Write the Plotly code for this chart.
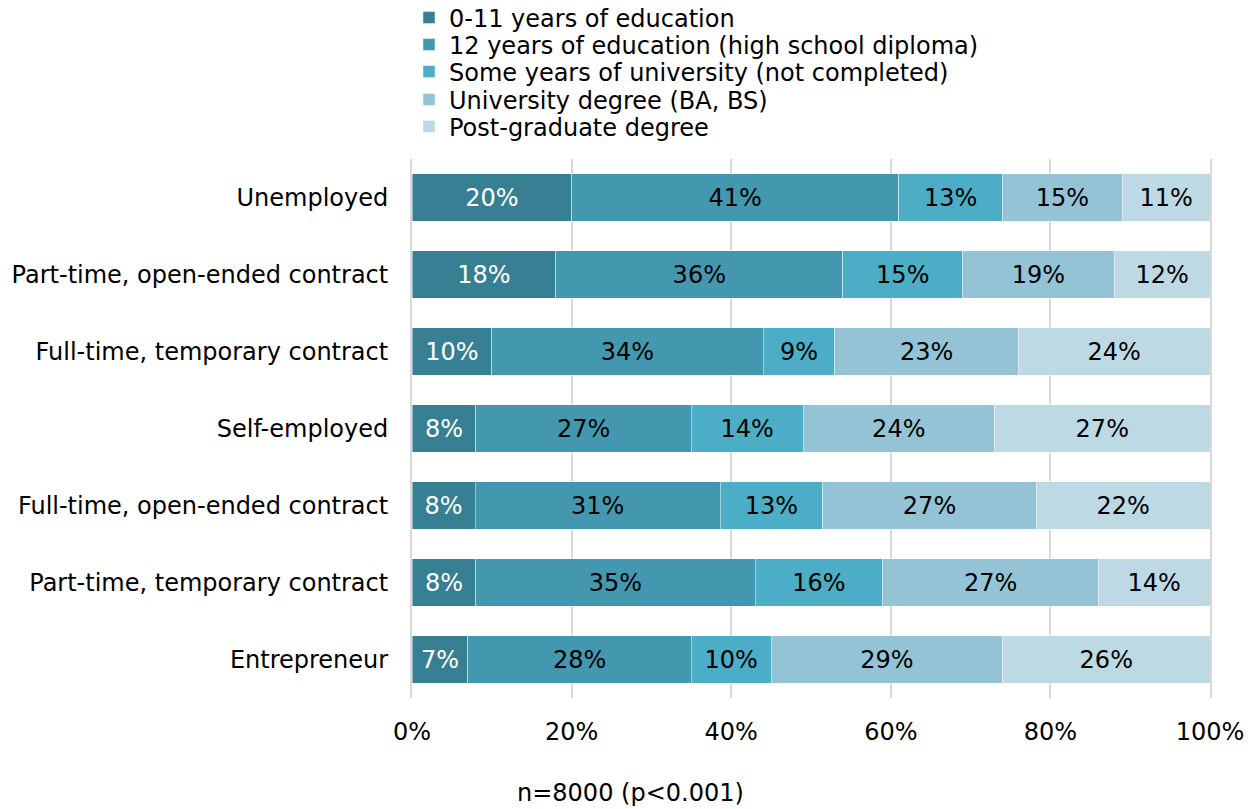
import plotly.graph_objects as go

# Employment status (top to bottom)
categories = [
    "Unemployed",
    "Part-time, open-ended contract",
    "Full-time, temporary contract",
    "Self-employed",
    "Full-time, open-ended contract",
    "Part-time, temporary contract",
    "Entrepreneur",
]

# Education levels
series_names = [
    "0-11 years of education",
    "12 years of education (high school diploma)",
    "Some years of university (not completed)",
    "University degree (BA, BS)",
    "Post-graduate degree",
]

edu_0_11 = [20, 18, 10, 8, 8, 8, 7]
edu_12 = [41, 36, 34, 27, 31, 35, 28]
edu_some_uni = [13, 15, 9, 14, 13, 16, 10]
edu_degree = [15, 19, 23, 24, 27, 27, 29]
edu_postgrad = [11, 12, 24, 27, 22, 14, 26]

series_values = [edu_0_11, edu_12, edu_some_uni, edu_degree, edu_postgrad]

x_tick_values = [0, 20, 40, 60, 80, 100]
x_tick_labels = ["0%", "20%", "40%", "60%", "80%", "100%"]

colors = ["#377f93", "#4398b0", "#4badc6", "#93c3d4", "#bcd9e4"]
text_colors = ["white", "black", "black", "black", "black"]

FONT = "DejaVu Sans, Verdana, sans-serif"
FS = 24
W, H = 1257, 809
GRID = "#d9d9d9"

# one legend per series so the rows can be spaced tightly
legend_ids = ["legend", "legend2", "legend3", "legend4", "legend5"]
legend_row_centers = [18, 45, 72, 100, 127]

fig = go.Figure()
for name, vals, col, tcol, lid in zip(series_names, series_values, colors, text_colors, legend_ids):
    fig.add_trace(go.Bar(
        y=categories,
        x=vals,
        name=name,
        orientation="h",
        legend=lid,
        marker=dict(color=col, line=dict(color="rgba(255,255,255,0.45)", width=1)),
        text=[f"{v}%" for v in vals],
        textposition="inside",
        insidetextanchor="middle",
        textangle=0,
        constraintext="none",
        textfont=dict(color=tcol, size=FS, family=FONT),
        hoverinfo="skip",
    ))

legend_layout = {}
for lid, yc in zip(legend_ids, legend_row_centers):
    legend_layout[lid] = dict(
        xref="container", yref="container",
        x=409 / W, y=1 - yc / H,
        xanchor="left", yanchor="middle",
        font=dict(size=FS, family=FONT),
        bgcolor="rgba(0,0,0,0)",
        itemclick=False,
        itemdoubleclick=False,
    )

fig.update_layout(
    barmode="stack",
    barnorm="percent",
    bargap=0.377,
    width=W,
    height=H,
    margin=dict(l=412, r=47, t=159, b=111, autoexpand=False),
    paper_bgcolor="white",
    plot_bgcolor="white",
    font=dict(family=FONT, size=FS, color="black"),
    showlegend=True,
    xaxis=dict(
        range=[0, 100],
        tickvals=x_tick_values,
        ticktext=x_tick_labels,
        tickangle=0,
        showgrid=True,
        gridcolor=GRID,
        gridwidth=2,
        zeroline=False,
        ticks="",
        ticklabelstandoff=17,
        tickfont=dict(size=FS),
        showline=False,
        automargin=False,
        layer="below traces",
    ),
    yaxis=dict(
        categoryorder="array",
        categoryarray=categories,
        autorange="reversed",
        showgrid=False,
        ticks="",
        ticklabelstandoff=17,
        tickfont=dict(size=FS),
        automargin=False,
        showline=True,
        linecolor=GRID,
        linewidth=2,
        mirror=True,
        layer="below traces",
    ),
    annotations=[dict(
        text="n=8000 (p<0.001)",
        xref="paper", yref="paper",
        x=(630 - 412) / 798, y=-(793 - 698) / 539.5,
        xanchor="center", yanchor="middle",
        showarrow=False,
        font=dict(size=FS, family=FONT),
    )],
    **legend_layout,
)

fig.write_html("out.html")
